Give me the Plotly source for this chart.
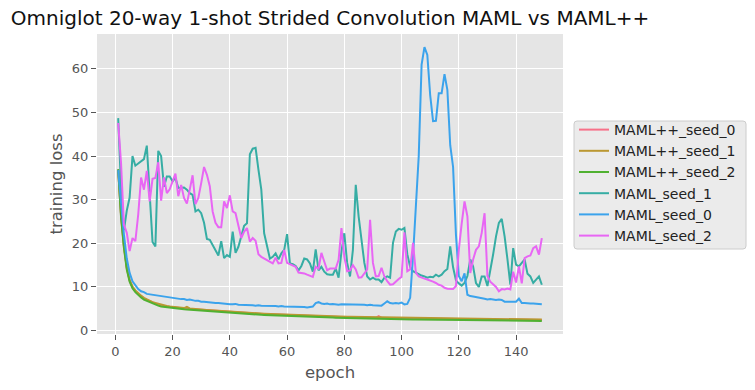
import plotly.graph_objects as go

epochs = list(range(1, 150))

maml_pp_seed_0 = [
    36.9, 26.3, 19.3, 14.3, 11.4, 9.9, 9.0, 8.3, 7.8, 7.3,
    7.0, 6.7, 6.4, 6.2, 5.9, 5.7, 5.6, 5.5, 5.4, 5.3,
    5.2, 5.15, 5.1, 5.05, 5.0, 4.95, 4.9, 4.8, 4.75, 4.7,
    4.65, 4.6, 4.55, 4.5, 4.45, 4.4, 4.35, 4.3, 4.25, 4.2,
    4.15, 4.1, 4.07, 4.04, 4.0, 3.97, 3.94, 3.9, 3.87, 3.84,
    3.8, 3.77, 3.74, 3.7, 3.67, 3.64, 3.61, 3.58, 3.55, 3.52,
    3.5, 3.47, 3.45, 3.42, 3.4, 3.37, 3.35, 3.32, 3.3, 3.28,
    3.26, 3.24, 3.22, 3.2, 3.18, 3.16, 3.14, 3.12, 3.1, 3.08,
    3.06, 3.04, 3.03, 3.01, 3.0, 2.98, 2.96, 2.95, 2.93, 2.92,
    2.9, 3.3, 2.88, 2.86, 2.85, 2.84, 2.82, 2.81, 2.8, 2.79,
    2.78, 2.77, 2.76, 2.75, 2.74, 2.73, 2.72, 2.71, 2.7, 2.69,
    2.68, 2.67, 2.66, 2.65, 2.64, 2.63, 2.62, 2.61, 2.6, 2.59,
    2.58, 2.57, 2.57, 2.56, 2.55, 2.54, 2.53, 2.53, 2.52, 2.51,
    2.5, 2.5, 2.49, 2.48, 2.48, 2.47, 2.46, 2.46, 2.45, 2.45,
    2.44, 2.44, 2.43, 2.42, 2.42, 2.41, 2.41, 2.4, 2.4,
]

maml_pp_seed_1 = [
    36.8, 26.6, 19.5, 14.5, 11.6, 10.1, 9.2, 8.5, 8.0, 7.5,
    7.1, 6.8, 6.5, 6.3, 6.1, 5.9, 5.7, 5.6, 5.5, 5.4,
    5.3, 5.25, 5.2, 5.15, 5.4, 5.05, 5.0, 4.9, 4.85, 4.8,
    4.75, 4.7, 4.65, 4.6, 4.55, 4.5, 4.45, 4.4, 4.35, 4.3,
    4.25, 4.2, 4.17, 4.14, 4.1, 4.07, 4.04, 4.0, 3.97, 3.94,
    3.9, 3.87, 3.84, 3.8, 3.77, 3.74, 3.71, 3.68, 3.65, 3.62,
    3.6, 3.57, 3.55, 3.52, 3.5, 3.47, 3.45, 3.42, 3.4, 3.38,
    3.36, 3.34, 3.32, 3.3, 3.28, 3.26, 3.24, 3.22, 3.2, 3.18,
    3.16, 3.14, 3.13, 3.11, 3.1, 3.08, 3.06, 3.05, 3.03, 3.02,
    3.0, 2.99, 2.98, 2.96, 2.95, 2.94, 2.92, 2.91, 2.9, 2.89,
    2.88, 2.87, 2.86, 2.85, 2.84, 2.83, 2.82, 2.81, 2.8, 2.79,
    2.78, 2.77, 2.76, 2.75, 2.74, 2.73, 2.72, 2.71, 2.7, 2.69,
    2.68, 2.67, 2.67, 2.66, 2.65, 2.64, 2.63, 2.63, 2.62, 2.61,
    2.6, 2.6, 2.59, 2.58, 2.58, 2.57, 2.56, 2.56, 2.55, 2.55,
    2.54, 2.54, 2.53, 2.52, 2.52, 2.51, 2.51, 2.5, 2.5,
]

maml_pp_seed_2 = [
    37.0, 26.0, 19.0, 14.0, 11.2, 9.7, 8.8, 8.1, 7.6, 7.1,
    6.8, 6.5, 6.2, 6.0, 5.7, 5.5, 5.4, 5.3, 5.2, 5.1,
    5.0, 4.95, 4.9, 4.85, 4.8, 4.75, 4.7, 4.6, 4.55, 4.5,
    4.45, 4.4, 4.35, 4.3, 4.25, 4.2, 4.15, 4.1, 4.05, 4.0,
    3.95, 3.9, 3.87, 3.84, 3.8, 3.77, 3.74, 3.7, 3.67, 3.64,
    3.6, 3.57, 3.54, 3.5, 3.47, 3.44, 3.41, 3.38, 3.35, 3.32,
    3.3, 3.27, 3.25, 3.22, 3.2, 3.17, 3.15, 3.12, 3.1, 3.08,
    3.06, 3.04, 3.02, 3.0, 2.98, 2.96, 2.94, 2.92, 2.9, 2.88,
    2.86, 2.84, 2.83, 2.81, 2.8, 2.78, 2.76, 2.75, 2.73, 2.72,
    2.7, 2.69, 2.68, 2.66, 2.65, 2.64, 2.62, 2.61, 2.6, 2.59,
    2.58, 2.57, 2.56, 2.55, 2.54, 2.53, 2.52, 2.51, 2.5, 2.49,
    2.48, 2.47, 2.46, 2.45, 2.44, 2.43, 2.42, 2.41, 2.4, 2.39,
    2.38, 2.37, 2.37, 2.36, 2.35, 2.34, 2.33, 2.33, 2.32, 2.31,
    2.3, 2.3, 2.29, 2.28, 2.28, 2.27, 2.26, 2.26, 2.25, 2.25,
    2.24, 2.24, 2.23, 2.22, 2.22, 2.21, 2.21, 2.2, 2.2,
]

maml_seed_1 = [
    48.7, 33.0, 23.0, 27.5, 30.5, 40.0, 37.8, 38.3, 38.8, 39.3,
    42.4, 30.0, 20.3, 19.3, 41.2, 40.0, 33.0, 35.3, 35.3, 34.2,
    35.0, 32.7, 32.7, 32.8, 32.3, 31.5, 31.1, 27.3, 27.7, 26.9,
    24.7, 21.0, 20.8, 19.7, 18.5, 17.2, 20.5, 16.6, 17.3, 16.9,
    22.7, 17.8, 19.2, 21.9, 24.0, 24.6, 40.4, 41.7, 41.9, 36.9,
    32.3, 22.3, 19.2, 16.5, 16.9, 17.7, 16.3, 17.7, 18.5, 22.1,
    15.4, 15.2, 14.8, 13.8, 14.8, 16.5, 16.3, 15.4, 13.5, 18.6,
    13.8, 14.6, 13.5, 12.9, 12.8, 12.8, 14.2, 12.1, 18.1, 22.3,
    15.5, 12.4, 18.5, 33.4, 26.2, 20.1, 15.5, 12.4, 11.7, 12.1,
    11.7, 11.7, 11.1, 12.1, 12.4, 12.1, 20.1, 22.7, 23.3, 23.1,
    23.5, 17.5, 14.6, 13.6, 13.2, 12.8, 12.6, 12.4, 12.1, 12.3,
    12.2, 12.8, 12.4, 12.8, 13.6, 14.1, 19.3, 14.5, 11.5, 10.8,
    10.3, 10.9, 12.5, 16.3, 14.7, 10.9, 10.0, 12.4, 12.4, 10.2,
    13.5, 17.5, 21.6, 24.7, 25.6, 21.6, 16.3, 10.5, 18.9, 15.1,
    14.7, 15.5, 16.3, 13.0, 12.4, 10.9, 11.7, 12.4, 10.5,
]

maml_seed_0 = [
    36.8, 29.0, 22.0, 16.5, 13.2, 11.3, 10.3, 9.5, 9.0, 8.8,
    8.4, 8.3, 8.1, 8.0, 7.9, 7.8, 7.7, 7.6, 7.5, 7.5,
    7.4, 7.3, 7.2, 7.2, 7.0, 7.1, 6.9, 6.8, 6.8, 6.6,
    6.6, 6.5, 6.5, 6.4, 6.3, 6.3, 6.2, 6.2, 6.1, 6.0,
    6.0, 6.1, 5.9, 5.9, 5.8, 5.9, 5.8, 5.8, 5.7, 5.8,
    5.7, 5.7, 5.6, 5.7, 5.6, 5.6, 5.5, 5.6, 5.5, 5.5,
    5.4, 5.5, 5.4, 5.4, 5.5, 5.4, 5.3, 5.4, 5.5, 6.3,
    6.5, 6.2, 6.1, 6.2, 6.0, 6.1, 6.0, 5.9, 6.0, 6.0,
    5.9, 5.9, 6.0, 6.0, 5.9, 6.0, 5.9, 5.8, 5.9, 5.8,
    5.8, 5.7, 5.7, 6.2, 6.7, 6.3, 6.2, 6.3, 6.2, 6.4,
    6.0, 6.1, 7.5, 17.0, 29.5, 40.0, 61.0, 65.0, 63.2, 54.0,
    48.0, 48.1, 54.4, 54.4, 58.8, 55.2, 42.5, 37.5, 22.0, 12.5,
    11.3, 13.1, 8.2, 7.9, 7.8, 7.7, 7.6, 7.5, 7.3, 7.1,
    7.2, 7.1, 7.0, 7.1, 7.0, 6.6, 6.6, 6.7, 6.6, 6.6,
    7.3, 6.3, 6.3, 6.2, 6.2, 6.2, 6.1, 6.0, 6.0,
]

maml_seed_2 = [
    47.6, 38.4, 24.3, 22.4, 18.2, 21.2, 20.5, 26.6, 35.1, 32.3,
    36.6, 29.6, 34.8, 35.0, 38.6, 29.8, 35.1, 31.5, 32.4, 34.4,
    36.0, 30.8, 33.4, 30.4, 29.1, 32.3, 35.6, 29.0, 30.4, 33.8,
    37.5, 35.7, 33.1, 27.3, 24.7, 23.7, 23.7, 29.6, 28.1, 31.0,
    27.3, 26.9, 24.2, 21.2, 22.7, 23.5, 20.4, 21.2, 20.6, 17.5,
    16.9, 16.5, 16.2, 15.9, 15.4, 16.7, 15.4, 15.5, 18.5, 15.5,
    15.2, 15.0, 14.6, 13.3, 13.2, 13.1, 12.8, 12.5, 12.3, 14.6,
    14.2, 17.8, 15.5, 13.8, 14.2, 14.2, 14.2, 16.2, 23.5, 16.9,
    13.6, 13.8, 15.0, 14.0, 12.1, 12.2, 13.0, 14.0, 25.4, 15.5,
    12.4, 12.5, 14.4, 12.4, 11.3, 10.5, 10.6, 11.3, 11.8, 12.3,
    22.5, 13.6, 14.0, 20.1, 13.2, 12.4, 12.1, 11.9, 11.7, 11.5,
    11.2, 10.9, 10.5, 10.3, 9.8, 9.6, 9.5, 9.5, 10.2, 18.5,
    24.5, 29.6, 26.2, 13.2, 16.3, 18.5, 19.3, 22.4, 26.9, 12.5,
    11.2, 10.5, 10.0, 9.0, 9.5, 9.4, 9.6, 9.4, 13.5, 11.0,
    14.7, 10.8, 16.6, 17.0, 17.2, 18.9, 19.3, 17.4, 21.2,
]

series_names = ["MAML++_seed_0", "MAML++_seed_1", "MAML++_seed_2",
                "MAML_seed_1", "MAML_seed_0", "MAML_seed_2"]
series_values = [maml_pp_seed_0, maml_pp_seed_1, maml_pp_seed_2,
                 maml_seed_1, maml_seed_0, maml_seed_2]
colors = ["#f77189", "#bb9832", "#50b131", "#36ada4", "#3ba3ec", "#e866f4"]

x_ticks = [0, 20, 40, 60, 80, 100, 120, 140]
y_ticks = [0, 10, 20, 30, 40, 50, 60]

fig = go.Figure()
for name, vals, col in zip(series_names, series_values, colors):
    fig.add_trace(go.Scatter(x=epochs, y=vals, mode="lines", name=name,
                             line=dict(color=col, width=2)))

# plot area in pixels (for placing the legend frame in paper coords)
W, H = 755, 390
L, R, T, B = 97, 192, 34, 56
pw, ph = W - L - R, H - T - B


def px_x(p):
    return (p - L) / pw


def px_y(p):
    return (H - B - p) / ph


# rounded legend frame like matplotlib's fancybox
x0, x1, y0, y1 = px_x(574), px_x(746), px_y(249), px_y(121)
rx, ry = 3 / pw, 3 / ph
frame_path = (
    f"M {x0 + rx},{y0} L {x1 - rx},{y0} Q {x1},{y0} {x1},{y0 + ry} "
    f"L {x1},{y1 - ry} Q {x1},{y1} {x1 - rx},{y1} "
    f"L {x0 + rx},{y1} Q {x0},{y1} {x0},{y1 - ry} "
    f"L {x0},{y0 + ry} Q {x0},{y0} {x0 + rx},{y0} Z"
)

FONT = "DejaVu Sans"
fig.update_layout(
    width=W, height=H,
    margin=dict(l=L, r=R, t=T, b=B),
    paper_bgcolor="white",
    plot_bgcolor="#E5E5E5",
    font=dict(family=FONT, color="#555555"),
    title=dict(text="Omniglot 20-way 1-shot Strided Convolution MAML vs MAML++",
               x=0.5, xref="paper", xanchor="center",
               y=1 - 18 / H, yref="container", yanchor="middle",
               font=dict(family=FONT, size=20, color="#111111")),
    showlegend=True,
    legend=dict(x=px_x(574), xanchor="left", y=px_y(183), yanchor="middle",
                bgcolor="rgba(0,0,0,0)", borderwidth=0,
                font=dict(family=FONT, size=14, color="#222222"),
                traceorder="normal"),
    shapes=[dict(type="path", path=frame_path, xref="paper", yref="paper",
                 fillcolor="#EBEBEB", line=dict(color="#CCCCCC", width=1),
                 layer="below")],
    xaxis=dict(range=[-6.4, 156.4], tickvals=x_ticks,
               showgrid=True, gridcolor="white", gridwidth=1.1,
               zeroline=False, ticks="outside", ticklen=5, tickcolor="#555555",
               tickfont=dict(size=13, color="#555555"),
               title=dict(text="epoch", font=dict(size=16.5, color="#555555"), standoff=8)),
    yaxis=dict(range=[-0.8, 68.0], tickvals=y_ticks,
               showgrid=True, gridcolor="white", gridwidth=1.1,
               zeroline=False, ticks="outside", ticklen=5, tickcolor="#555555",
               tickfont=dict(size=13, color="#555555"),
               title=dict(text="training loss", font=dict(size=16.5, color="#555555"), standoff=5)),
)

fig.write_html("out.html", config={"displayModeBar": False},
               post_script="document.body.style.margin='0';document.body.style.overflow='hidden';")
